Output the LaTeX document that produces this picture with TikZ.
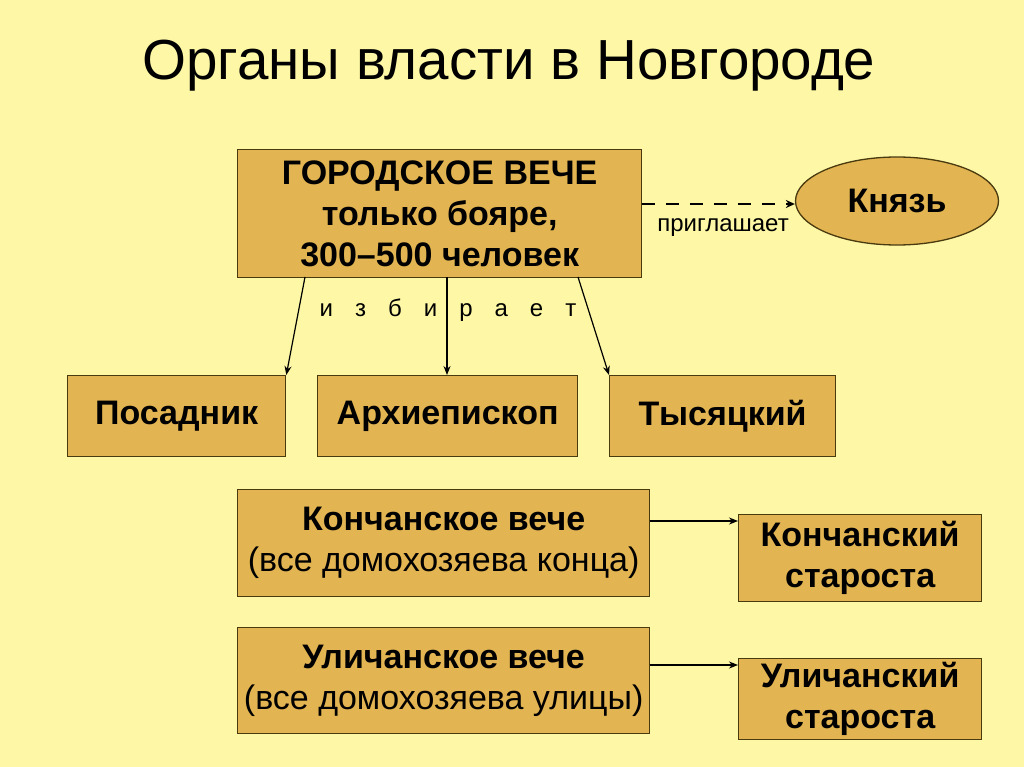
\documentclass[tikz,border=0pt]{standalone}
\usepackage{fontspec}
\setmainfont{Liberation Sans}
\usetikzlibrary{arrows.meta,shapes.geometric}
\definecolor{bg}{HTML}{FDF7A6}
\definecolor{boxfill}{HTML}{E2B452}
\definecolor{boxline}{HTML}{4A3A10}
\tikzset{
  x=1pt, y=-1pt,
  box/.style={draw=boxline, line width=1.3pt, fill=boxfill, inner sep=0pt, anchor=north west, align=center, font=\fontsize{34}{41}\selectfont\bfseries},
  arr/.style={line width=1.2pt, -{Stealth[length=9pt,width=7pt]}},
  lbl/.style={font=\fontsize{24}{28}\selectfont}
}
\begin{document}
\begin{tikzpicture}
\useasboundingbox (0,0) rectangle (1024,767);
\fill[bg] (0,0) rectangle (1024,767);
\node[font=\fontsize{56.5}{62}\selectfont] (title) at (509,66) {Органы власти в Новгороде};

\node[box, minimum width=404pt, minimum height=128pt] (gv) at (237,149) {ГОРОДСКОЕ ВЕЧЕ\\только бояре,\\ 300–500 человек};
\node[draw=boxline, line width=1.3pt, fill=boxfill, ellipse, minimum width=203pt, minimum height=88pt, font=\fontsize{34}{40}\selectfont\bfseries] (kn) at (897,201) {Князь};
\draw[line width=2.4pt, dash pattern=on 13pt off 11pt, -{Stealth[length=9pt,width=8pt]}] (gv.east |- 0,204) coordinate (ds) -- (kn.west |- 0,204);
\node[lbl] (pr) at (723,228) {приглашает};

\node[box, minimum width=218pt, minimum height=81pt] (pos) at (67,375) {Посадник};
\node[box, minimum width=260pt, minimum height=81pt] (arh) at (317,375) {Архиепископ};
\node[box, minimum width=226pt, minimum height=81pt] (tys) at (609,375) {Тысяцкий};

\coordinate (g1) at (305,277);
\coordinate (g2) at (447,277);
\coordinate (g3) at (578,277);
\draw[arr] (g1) -- (pos.north east);
\draw[arr] (g2) -- (arh.north -| g2);
\draw[arr] (g3) -- (tys.north west);
\node[lbl] (izb) at (448,310) {\spaceskip=22pt\relax и з б и р а е т};

\node[box, minimum width=412pt, minimum height=107pt] (kv) at (237,489) {Кончанское вече\\\mdseries (все домохозяева конца)};
\node[box, minimum width=243pt, minimum height=87pt] (ks) at (738,514) {Кончанский\\староста};
\draw[arr] (kv.east |- 0,521) -- (ks.west |- 0,521);

\node[box, minimum width=412pt, minimum height=106pt] (uv) at (237,627) {Уличанское вече\\\mdseries (все домохозяева улицы)};
\node[box, minimum width=243pt, minimum height=81pt] (us) at (738,658) {Уличанский\\староста};
\draw[arr] (uv.east |- 0,665) -- (us.west |- 0,665);
\end{tikzpicture}
\end{document}
